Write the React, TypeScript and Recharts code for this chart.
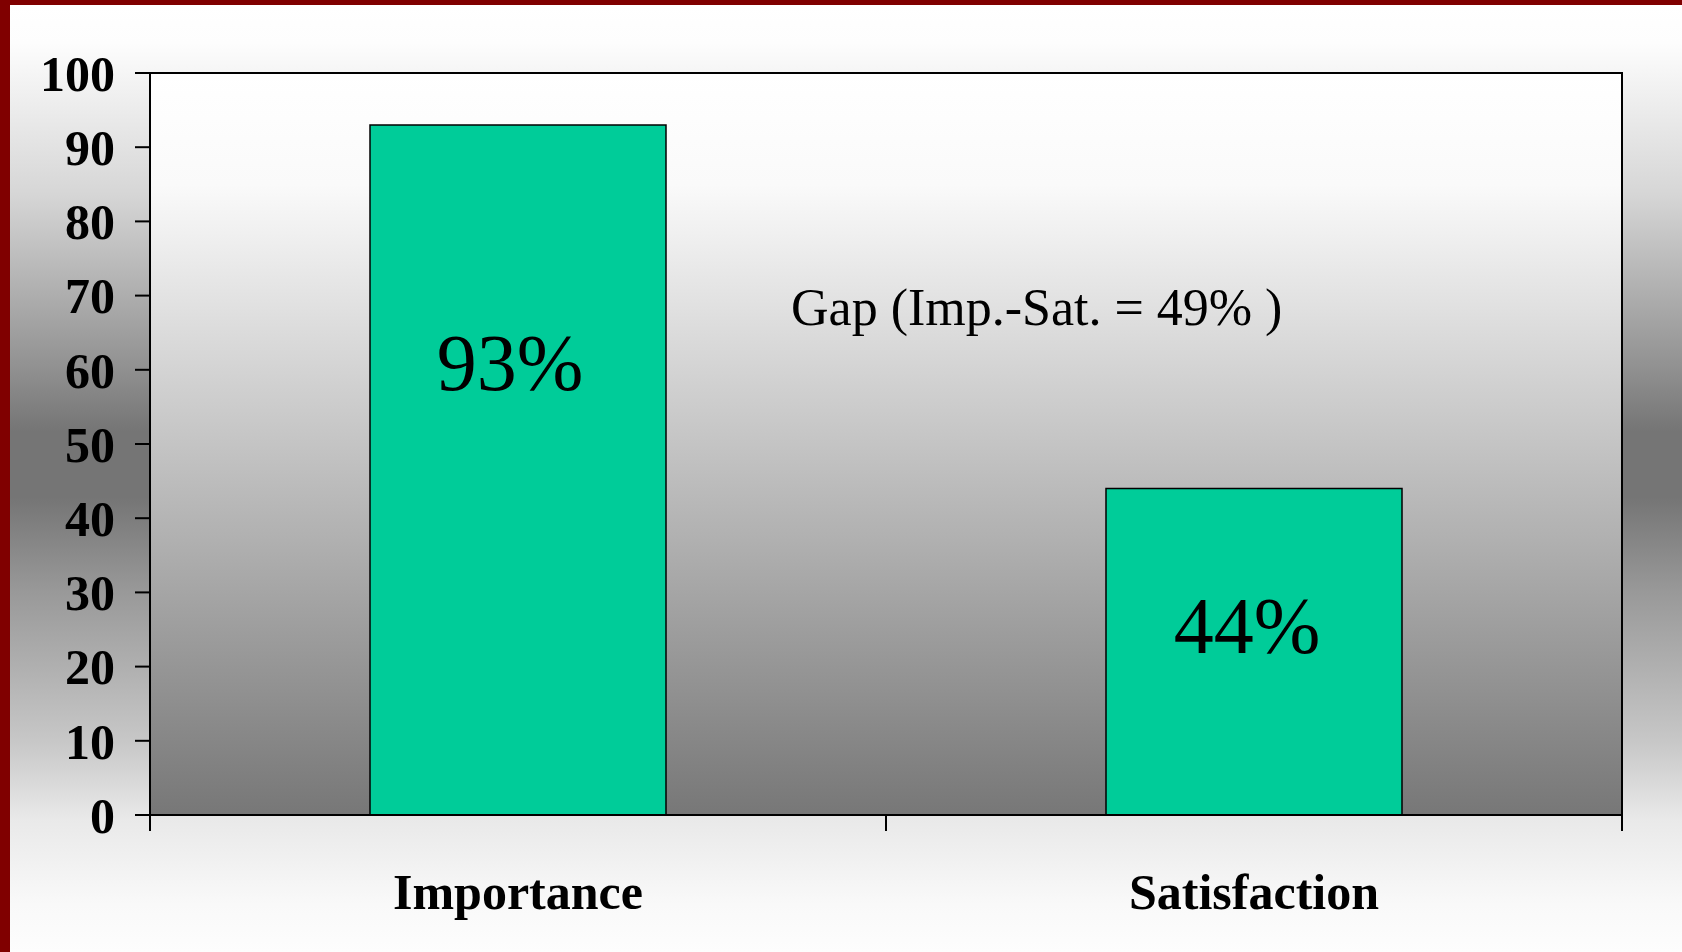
import React from 'react';
import { BarChart, Bar, XAxis, YAxis, ReferenceArea } from 'recharts';

const categories = ['Importance', 'Satisfaction'];
const values = [93, 44];
const yTicks = [0, 10, 20, 30, 40, 50, 60, 70, 80, 90, 100];
const gapNote = 'Gap (Imp.-Sat. = 49%\u00a0)';

const data = categories.map((name, i) => ({ name, value: values[i] }));

const serif = '"Liberation Serif", "Times New Roman", serif';

// the % labels sit where they were dropped on the slide, not centred
const labelDx = [-8, -7];
const labelDy = [265, 164];

const renderValueLabel = (props: any) => {
  const { x, y, width, value, index } = props;
  return (
    <text
      x={Number(x) + Number(width) / 2 + labelDx[index]}
      y={Number(y) + labelDy[index]}
      textAnchor="middle"
      fontFamily={serif}
      fontSize={80}
      fill="#000"
    >
      {value}%
    </text>
  );
};

// free text box on the slide, anchored to the plot frame
const renderGapNote = (props: any) => {
  const vb = props.viewBox || {};
  return (
    <text x={Number(vb.x) + 641} y={Number(vb.y) + 252} fontFamily={serif} fontSize={52} fill="#000">
      {gapNote}
    </text>
  );
};

// Excel style category axis: tick marks between the categories, name in the middle
const CategoryTick = (props: any) => {
  const { x, y, payload, width } = props;
  const half = payload && payload.offset > 0 ? payload.offset : Number(width) / (2 * categories.length);
  return (
    <g>
      <line x1={x - half} x2={x - half} y1={y} y2={y + 16} stroke="#000" strokeWidth={2} />
      <line x1={x + half} x2={x + half} y1={y} y2={y + 16} stroke="#000" strokeWidth={2} />
      <text
        x={x}
        y={y + 58}
        dy="0.71em"
        textAnchor="middle"
        fontFamily={serif}
        fontSize={50}
        fontWeight="bold"
        fill="#000"
      >
        {payload.value}
      </text>
    </g>
  );
};

const App: React.FC = () => {
  return (
    <div
      style={{
        width: 1682,
        height: 952,
        boxSizing: 'border-box',
        borderLeft: '10px solid #800000',
        borderTop: '5px solid #800000',
        background:
          'linear-gradient(to bottom, #ffffff 0%, #fdfdfd 4%, #d6d6d6 20%, #929292 38%, #757575 45%, #757575 52%, #999999 62%, #b0b0b0 70%, #c8c8c8 78%, #e9e9e9 86%, #f9f9f9 95%, #fdfdfd 100%)',
      }}
    >
      <style>{'body{margin:0}'}</style>
      <BarChart
        width={1672}
        height={947}
        data={data}
        margin={{ top: 68, right: 60, left: 0, bottom: 0 }}
      >
        <defs>
          <linearGradient id="plotBg" x1="0" y1="0" x2="0" y2="1">
            <stop offset="0%" stopColor="#ffffff" />
            <stop offset="15%" stopColor="#fafafa" />
            <stop offset="100%" stopColor="#777777" />
          </linearGradient>
        </defs>
        <ReferenceArea
          y1={0}
          y2={100}
          fill="url(#plotBg)"
          fillOpacity={1}
          stroke="#000"
          strokeWidth={2}
          label={renderGapNote}
        />
        <XAxis
          dataKey="name"
          height={137}
          interval={0}
          tickSize={0}
          tickMargin={0}
          tickLine={false}
          axisLine={{ stroke: '#000', strokeWidth: 2 }}
          tick={<CategoryTick />}
        />
        <YAxis
          type="number"
          domain={[0, 100]}
          ticks={yTicks}
          width={140}
          tickSize={15}
          tickMargin={20}
          axisLine={{ stroke: '#000', strokeWidth: 2 }}
          tickLine={{ stroke: '#000', strokeWidth: 2 }}
          tick={{ fill: '#000', fontFamily: serif, fontSize: 50, fontWeight: 'bold' }}
        />
        <Bar
          dataKey="value"
          barSize={296}
          fill="#00CC99"
          stroke="#000"
          strokeWidth={1.5}
          isAnimationActive={false}
          label={renderValueLabel}
        />
      </BarChart>
    </div>
  );
};

export default App;
